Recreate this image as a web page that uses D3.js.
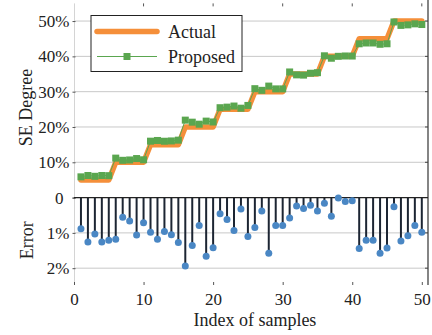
<!DOCTYPE html>
<html>
<head>
<meta charset="utf-8">
<script src="https://cdn.jsdelivr.net/npm/d3@7"></script>
<style>
  html, body { margin: 0; padding: 0; background: #fff; }
  svg { display: block; }
  text { font-family: "Liberation Serif", "Times New Roman", serif; fill: #222; }
</style>
</head>
<body>
<svg id="chart" width="432" height="335"></svg>
<script>
// ---- data ----
const sampleIndex = d3.range(1, 51);
const actual = [5,5,5,5,5, 10,10,10,10,10, 15,15,15,15,15, 20,20,20,20,20, 25,25,25,25,25,
                30,30,30,30,30, 35,35,35,35,35, 40,40,40,40,40, 45,45,45,45,45, 50,50,50,50,50];
const proposed = [5.88,6.26,6.03,6.26,6.21, 11.18,10.56,10.66,11.06,10.71,
                  15.98,16.18,15.96,16.05,16.27, 21.94,21.36,20.79,21.66,21.42,
                  25.46,25.62,25.93,25.32,26.10, 30.85,30.38,31.58,30.79,30.79,
                  35.58,34.76,34.69,35.22,35.38, 40.16,39.47,40.01,40.11,40.09,
                  43.56,43.79,43.79,43.42,43.57, 49.74,48.77,48.92,49.21,49.02];
const errorVals = [0.88,1.26,1.03,1.26,1.21, 1.18,0.56,0.66,1.06,0.71,
                   0.98,1.18,0.96,1.05,1.27, 1.94,1.36,0.79,1.66,1.42,
                   0.46,0.62,0.93,0.32,1.10, 0.85,0.38,1.58,0.79,0.79,
                   0.58,0.24,0.31,0.22,0.38, 0.16,0.53,0.01,0.11,0.09,
                   1.44,1.21,1.21,1.58,1.43, 0.26,1.23,1.08,0.79,0.98];
const xTicks = [0, 10, 20, 30, 40, 50];
const topTicks = [10, 20, 30, 40, 50];
const bottomTicks = [1, 2];
const seriesNames = ["Actual", "Proposed"];

// ---- layout ----
const svg = d3.select("#chart");
const pLeft = 74, pRight = 428, pTop = 3.4, pMid = 197.6, pBottom = 283;
const x = d3.scaleLinear().domain([0, 50]).range([74, 421.8]);
const yTop = d3.scaleLinear().domain([0, 55]).range([pMid, pTop]);
const yBot = d3.scaleLinear().domain([0, 2.42]).range([pMid, pBottom]);

const ORANGE = "#f58f3a", GREEN = "#5aa64f", BLUE = "#4a87c4", STEM = "#1c2533";

// gridlines
svg.append("g").selectAll("line").data(topTicks).join("line")
  .attr("x1", pLeft).attr("x2", pRight)
  .attr("y1", d => yTop(d)).attr("y2", d => yTop(d))
  .attr("stroke", "#c8c8c8").attr("stroke-width", 1);
svg.append("g").selectAll("line").data(bottomTicks).join("line")
  .attr("x1", pLeft).attr("x2", pRight)
  .attr("y1", d => yBot(d)).attr("y2", d => yBot(d))
  .attr("stroke", "#c8c8c8").attr("stroke-width", 1);

// left axis line (light) and right border (dark)
svg.append("line").attr("x1", pLeft + 0.5).attr("x2", pLeft + 0.5).attr("y1", pTop).attr("y2", pBottom)
  .attr("stroke", "#d4d4d4").attr("stroke-width", 1);
svg.append("line").attr("x1", pRight).attr("x2", pRight).attr("y1", 0).attr("y2", pBottom + 2)
  .attr("stroke", "#333").attr("stroke-width", 1.2);

// y axes
const axTop = d3.axisLeft(yTop).tickValues([0, ...topTicks]).tickSize(3).tickPadding(3)
  .tickFormat(d => d === 0 ? "" : d + "%");
const gTop = svg.append("g").attr("transform", `translate(${pLeft + 1.5},0)`).call(axTop);
const axBot = d3.axisLeft(yBot).tickValues([0, ...bottomTicks]).tickSize(3).tickPadding(3)
  .tickFormat(d => d === 0 ? "0" : d + "%");
const gBot = svg.append("g").attr("transform", `translate(${pLeft + 1.5},0)`).call(axBot);
[gTop, gBot].forEach(g => {
  g.select(".domain").remove();
  g.selectAll(".tick line").attr("stroke", "#555");
  g.selectAll(".tick text").attr("font-size", 17).attr("font-family", "Liberation Serif").attr("fill", "#222");
});
gBot.selectAll(".tick text").filter(d => d === 0).attr("dx", -6);

// right-side inward ticks
svg.append("g").selectAll("line").data(topTicks).join("line")
  .attr("x1", pRight - 3).attr("x2", pRight).attr("y1", d => yTop(d)).attr("y2", d => yTop(d))
  .attr("stroke", "#444");
svg.append("g").selectAll("line").data(bottomTicks).join("line")
  .attr("x1", pRight - 3).attr("x2", pRight).attr("y1", d => yBot(d)).attr("y2", d => yBot(d))
  .attr("stroke", "#444");

// x axis (bottom)
const axX = d3.axisBottom(x).tickValues(xTicks).tickSizeInner(-3).tickSizeOuter(0).tickPadding(8);
const gX = svg.append("g").attr("transform", `translate(0,${pBottom + 2})`).call(axX);
gX.select(".domain").remove();
gX.selectAll(".tick line").attr("stroke", "#555");
gX.selectAll(".tick text").attr("font-size", 17).attr("font-family", "Liberation Serif").attr("fill", "#222");
// top ticks
svg.append("g").selectAll("line").data(xTicks.slice(1)).join("line")
  .attr("x1", d => x(d)).attr("x2", d => x(d)).attr("y1", pTop).attr("y2", pTop + 3)
  .attr("stroke", "#555");

// axis titles
svg.append("text").attr("transform", `translate(32,${(yTop(0) + yTop(55)) / 2 + 7}) rotate(-90)`)
  .attr("text-anchor", "middle").attr("font-size", 18).text("SE Degree");
svg.append("text").attr("transform", `translate(33,${(yBot(0) + yBot(2.42)) / 2}) rotate(-90)`)
  .attr("text-anchor", "middle").attr("font-size", 18).text("Error");
svg.append("text").attr("x", (x(0) + x(50)) / 2 + 7).attr("y", 325.5)
  .attr("text-anchor", "middle").attr("font-size", 18).text("Index of samples");

// error stems
svg.append("g").selectAll("line").data(sampleIndex).join("line")
  .attr("x1", (d) => x(d)).attr("x2", (d) => x(d))
  .attr("y1", yBot(0)).attr("y2", (d, i) => yBot(errorVals[i]))
  .attr("stroke", STEM).attr("stroke-width", 2);
// zero baseline
svg.append("line").attr("x1", pLeft).attr("x2", pRight).attr("y1", yBot(0)).attr("y2", yBot(0))
  .attr("stroke", "#222").attr("stroke-width", 1.3);
svg.append("g").selectAll("circle").data(sampleIndex).join("circle")
  .attr("cx", d => x(d)).attr("cy", (d, i) => yBot(errorVals[i])).attr("r", 3.5)
  .attr("fill", BLUE);

// actual line
const lineA = d3.line().x(d => x(d)).y((d, i) => yTop(actual[i]));
svg.append("path").datum(sampleIndex).attr("d", lineA)
  .attr("fill", "none").attr("stroke", ORANGE).attr("stroke-width", 5.5)
  .attr("stroke-linejoin", "round").attr("stroke-linecap", "round");
// proposed line + markers
const lineP = d3.line().x(d => x(d)).y((d, i) => yTop(proposed[i]));
svg.append("path").datum(sampleIndex).attr("d", lineP)
  .attr("fill", "none").attr("stroke", GREEN).attr("stroke-width", 1);
const ms = 7;
svg.append("g").selectAll("rect").data(sampleIndex).join("rect")
  .attr("x", d => x(d) - ms / 2).attr("y", (d, i) => yTop(proposed[i]) - ms / 2)
  .attr("width", ms).attr("height", ms).attr("fill", GREEN);

// legend
const lg = svg.append("g");
lg.append("rect").attr("x", 91).attr("y", 15.5).attr("width", 151).attr("height", 56)
  .attr("fill", "#fff").attr("stroke", "#222").attr("stroke-width", 1);
lg.append("line").attr("x1", 97).attr("x2", 157).attr("y1", 31.5).attr("y2", 31.5)
  .attr("stroke", ORANGE).attr("stroke-width", 5.5).attr("stroke-linecap", "round");
lg.append("line").attr("x1", 97).attr("x2", 157).attr("y1", 56.5).attr("y2", 56.5)
  .attr("stroke", GREEN).attr("stroke-width", 1);
lg.append("rect").attr("x", 127 - ms / 2).attr("y", 56.5 - ms / 2).attr("width", ms).attr("height", ms)
  .attr("fill", GREEN);
lg.selectAll("text.lab").data(seriesNames).join("text").attr("class", "lab")
  .attr("x", 168).attr("y", (d, i) => 37.5 + i * 25).attr("font-size", 18).text(d => d);
</script>
</body>
</html>
